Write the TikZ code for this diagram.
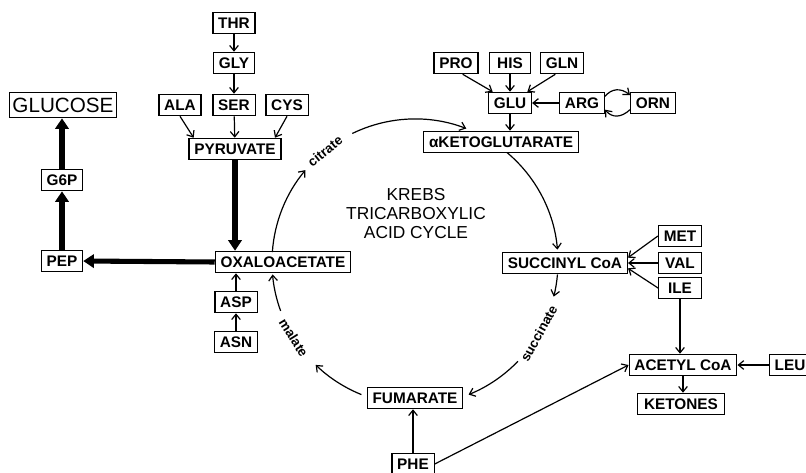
\documentclass[tikz,border=0pt]{standalone}
\usepackage{fontspec}
\setmainfont{Liberation Sans}
\usetikzlibrary{arrows.meta}
\begin{document}
\begin{tikzpicture}[x=0.75pt,y=-0.75pt,
	box/.style={draw, line width=0.9pt, font=\bfseries\fontsize{11.5}{12}\selectfont,
		inner xsep=4pt, inner ysep=0pt, minimum height=16pt, minimum width=31pt,
		text height=8.3pt, text depth=0pt},
	bigbox/.style={draw, line width=0.9pt, font=\fontsize{15.5}{16}\selectfont,
		inner xsep=2.5pt, inner ysep=0pt, minimum height=19pt, text height=11.1pt, text depth=0pt},
	flow/.style={-{Straight Barb[length=4pt,width=6.5pt]}, line width=0.9pt},
	main/.style={-{Triangle[length=8pt,width=10pt]}, line width=3.8pt},
	lab/.style={font=\bfseries\fontsize{10}{10}\selectfont, inner sep=1pt}]
		\useasboundingbox (0,0) rectangle (806,472);
		\node[box] (thr) at (234,23) {THR};
		\node[box] (gly) at (234,63) {GLY};
		\node[box] (ala) at (180,105) {ALA};
		\node[box] (ser) at (234,105) {SER};
		\node[box] (cys) at (287,105) {CYS};
		\node[box] (pyr) at (235,149) {PYRUVATE};
		\node[bigbox] (glc) at (63,105) {GLUCOSE};
		\node[box] (g6p) at (62,180) {G6P};
		\node[box] (pep) at (62,261) {PEP};
		\node[box] (oaa) at (283,262) {OXALOACETATE};
		\node[box] (asp) at (236,302) {ASP};
		\node[box] (asn) at (236,342) {ASN};
		\node[align=center, font=\fontsize{13}{14.25}\selectfont] (krebs) at (416,214) {KREBS\\TRICARBOXYLIC\\ACID CYCLE};
		\node[box] (pro) at (456,63) {PRO};
		\node[box] (his) at (510,63) {HIS};
		\node[box] (gln) at (562,63) {GLN};
		\node[box] (glu) at (510,103) {GLU};
		\node[box] (arg) at (582,103) {ARG};
		\node[box] (orn) at (653,103) {ORN};
		\node[box] (akg) at (501,142) {αKETOGLUTARATE};
		\node[box] (succ) at (565,263) {SUCCINYL CoA};
		\node[box, minimum width=32pt] (met) at (680,236) {MET};
		\node[box, minimum width=32pt] (val) at (680,263) {VAL};
		\node[box, minimum width=32pt] (ile) at (680,288) {ILE};
		\node[box] (acoa) at (683,365) {ACETYL CoA};
		\node[box] (leu) at (790,365) {LEU};
		\node[box, minimum width=65pt] (ket) at (681,404) {KETONES};
		\node[box] (fum) at (415,398) {FUMARATE};
		\node[box] (phe) at (413,464) {PHE};
		\coordinate (k) at (415,262);
		\draw[flow] ([shift={(184:143)}]k) arc[start angle=184, end angle=220, radius=143];
		\node[lab, rotate=39] (cit) at ([shift={(231:143)}]k) {citrate};
		\draw[flow] ([shift={(244:143)}]k) arc[start angle=244, end angle=291, radius=143];
		\draw[flow] ([shift={(310:143)}]k) arc[start angle=310, end angle=355, radius=143];
		\draw[flow] ([shift={(5:143)}]k) arc[start angle=5, end angle=14, radius=143];
		\node[lab, rotate=61] (suc) at ([shift={(30:143)}]k) {succinate};
		\draw[flow] ([shift={(44:143)}]k) arc[start angle=44, end angle=68, radius=143];
		\draw[flow] ([shift={(112:143)}]k) arc[start angle=112, end angle=134, radius=143];
		\node[lab, rotate=-58] (mal) at ([shift={(148:143)}]k) {malate};
		\draw[flow] ([shift={(160:143)}]k) arc[start angle=160, end angle=175, radius=143];
		\draw[main] (pyr.south) -- (pyr.south |- oaa.north);
		\draw[main] (oaa.west) -- (pep.east);
		\draw[main] (pep.north) -- (g6p.south);
		\draw[main] (g6p.north) -- (g6p.north |- glc.south);
		\draw[flow] (thr) -- (gly);
		\draw[flow] (gly) -- (ser);
		\draw[flow] (ser) -- (pyr);
		\draw[flow] (ala.south) -- ([xshift=-31pt]pyr.north);
		\draw[flow] (cys.south) -- ([xshift=30pt]pyr.north);
		\draw[flow] (asn) -- (asp);
		\draw[flow] (asp.north) -- (asp.north |- oaa.south);
		\draw[flow] ([xshift=5pt]pro.south) -- ([xshift=-13pt]glu.north);
		\draw[flow] (his) -- (glu);
		\draw[flow] ([xshift=-5pt]gln.south) -- ([xshift=13pt]glu.north);
		\draw[flow] (arg.west) -- (glu.east);
		\draw[flow] ([yshift=5pt]arg.east) .. controls (612,88) and (621,88) .. ([yshift=6pt]orn.west);
		\draw[flow] ([yshift=-5pt]orn.west) .. controls (621,118) and (612,118) .. ([yshift=-5pt]arg.east);
		\draw[flow] (glu.south) -- (glu.south |- akg.north);
		\draw[flow] (met.west) -- ([yshift=4pt]succ.east);
		\draw[flow] (val.west) -- (succ.east);
		\draw[flow] (ile.west) -- ([yshift=-4pt]succ.east);
		\draw[flow] (ile.south) -- (ile.south |- acoa.north);
		\draw[flow] (leu.west) -- (acoa.east);
		\draw[flow] (acoa.south) -- (acoa.south |- ket.north);
		\draw[flow] (phe.north) -- (phe.north |- fum.south);
		\draw[flow] (phe.east) -- (acoa.west);
	\end{tikzpicture}
\end{document}
